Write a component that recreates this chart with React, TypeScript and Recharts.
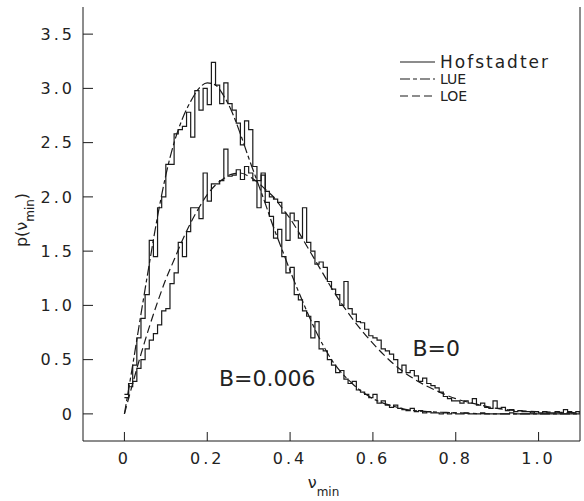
import { Line, LineChart, ReferenceDot, XAxis, YAxis } from "recharts"

// histogram bins: width 0.01 in nu_min, starting at 0
const BIN_WIDTH = 0.01

const histB0 = [
  0.18, 0.25, 0.3, 0.42, 0.5, 0.6, 0.68, 0.74, 0.82, 0.95,
  0.97, 1.2, 1.3, 1.58, 1.45, 1.68, 1.9, 1.9, 1.8, 2.22,
  1.96, 2.12, 2.12, 2.15, 2.44, 2.19, 2.2, 2.25, 2.16, 2.28,
  2.22, 2.15, 1.9, 2.2, 2.05, 2.0, 1.98, 1.95, 1.85, 1.6,
  1.85, 1.78, 1.62, 1.9, 1.58, 1.5, 1.38, 1.4, 1.35, 1.22,
  1.15, 1.1, 1.0, 1.22, 0.97, 0.92, 0.85, 0.84, 0.78, 0.72,
  0.7, 0.68, 0.6, 0.58, 0.55, 0.5, 0.38, 0.45, 0.38, 0.4,
  0.35, 0.3, 0.33, 0.28, 0.26, 0.24, 0.2, 0.16, 0.14, 0.12,
  0.12, 0.1, 0.12, 0.1, 0.14, 0.08, 0.1, 0.06, 0.05, 0.12,
  0.05, 0.06, 0.03, 0.04, 0.02, 0.03, 0.02, 0.02, 0.01, 0.02,
  0.01, 0.02, 0.01, 0.01, 0.02, 0.01, 0.04, 0.02, 0.01, 0.02,
]

const histB006 = [
  0.15, 0.28, 0.45, 0.7, 0.88, 1.1, 1.6, 1.45, 1.9, 2.0,
  2.3, 2.3, 2.58, 2.62, 2.65, 2.78, 2.55, 2.98, 2.8, 3.0,
  2.85, 3.24, 3.03, 2.86, 3.05, 2.86, 2.8, 2.68, 2.48, 2.7,
  2.62, 2.28, 2.15, 2.22, 1.95, 1.82, 1.62, 1.7, 1.45, 1.3,
  1.35, 1.1, 1.05, 0.95, 0.9, 0.7, 0.85, 0.6, 0.58, 0.5,
  0.45, 0.38, 0.4, 0.32, 0.28, 0.3, 0.22, 0.2, 0.18, 0.15,
  0.18, 0.1, 0.12, 0.08, 0.06, 0.08, 0.05, 0.04, 0.03, 0.05,
  0.02, 0.03, 0.01, 0.02, 0.01, 0.01, 0.0, 0.01, 0.0, 0.01,
  0.0, 0.0, 0.01, 0.0, 0.0, 0.0, 0.01, 0.0, 0.0, 0.0,
  0.0, 0.0, 0.0, 0.01, 0.0, 0.0, 0.0, 0.0, 0.0, 0.0,
  0.0, 0.0, 0.0, 0.0, 0.0, 0.0, 0.0, 0.0, 0.0, 0.0,
]

// smooth random-matrix curves
const lueNu = [0, 0.02, 0.04, 0.06, 0.08, 0.1, 0.12, 0.14, 0.16, 0.18, 0.2, 0.22, 0.24, 0.26, 0.28, 0.3, 0.32, 0.34, 0.36, 0.38, 0.4, 0.42, 0.44, 0.46, 0.48, 0.5, 0.55, 0.6, 0.65, 0.7, 0.8, 0.9, 1.1]
const lueP = [0, 0.45, 0.92, 1.38, 1.82, 2.2, 2.5, 2.72, 2.88, 3.0, 3.05, 3.03, 2.93, 2.78, 2.58, 2.36, 2.15, 1.94, 1.72, 1.52, 1.32, 1.13, 0.95, 0.78, 0.63, 0.5, 0.28, 0.14, 0.07, 0.03, 0.01, 0.0, 0.0]

const loeNu = [0, 0.02, 0.04, 0.06, 0.08, 0.1, 0.12, 0.14, 0.16, 0.18, 0.2, 0.22, 0.24, 0.26, 0.28, 0.3, 0.32, 0.34, 0.36, 0.38, 0.4, 0.42, 0.44, 0.46, 0.48, 0.5, 0.55, 0.6, 0.65, 0.7, 0.75, 0.8, 0.85, 0.9, 0.95, 1.0, 1.1]
const loeP = [0, 0.28, 0.55, 0.8, 1.03, 1.24, 1.42, 1.6, 1.76, 1.9, 2.02, 2.11, 2.17, 2.21, 2.22, 2.19, 2.14, 2.07, 2.0, 1.9, 1.8, 1.68, 1.55, 1.42, 1.29, 1.16, 0.88, 0.65, 0.46, 0.32, 0.22, 0.14, 0.09, 0.05, 0.03, 0.02, 0.01]

const xTicks = [0, 0.2, 0.4, 0.6, 0.8, 1.0]
const yTicks = [0, 0.5, 1.0, 1.5, 2.0, 2.5, 3.0, 3.5]

const annotations = [
  { text: "B=0", nu: 0.753, p: 0.61 },
  { text: "B=0.006", nu: 0.345, p: 0.33 },
]

const FONT = "'DejaVu Sans', sans-serif"
const INK = "#1a1a1a"
const LUE_DASH = "10 3 4 3"
const LOE_DASH = "8 4"

const histRows = histB0.map((b0, i) => ({ nu: i * BIN_WIDTH, b0, b006: histB006[i] }))
histRows.push({
  nu: histB0.length * BIN_WIDTH,
  b0: histB0[histB0.length - 1],
  b006: histB006[histB006.length - 1],
})
const lueRows = lueNu.map((nu, i) => ({ nu, p: lueP[i] }))
const loeRows = loeNu.map((nu, i) => ({ nu, p: loeP[i] }))

const fmt = (v: number) => (v === 0 ? "0" : v.toFixed(1))

const XTick = (props: any) => (
  <text x={props.x} y={props.y} dy="0.71em" textAnchor="middle" fontFamily={FONT} fontSize={16} letterSpacing={3} fill="#222">
    {fmt(props.payload.value)}
  </text>
)

const YTick = (props: any) => (
  <text x={props.x} y={props.y} dy="0.36em" textAnchor="end" fontFamily={FONT} fontSize={16} letterSpacing={3} fill="#222">
    {fmt(props.payload.value)}
  </text>
)

const XLabel = (props: any) => {
  const vb = props.viewBox
  return (
    <text x={vb.x + vb.width / 2 - 8} y={vb.y + 47} textAnchor="middle" fontFamily={FONT} fontSize={16} fill="#222">
      ν<tspan dy={8} fontSize={12}>min</tspan>
    </text>
  )
}

const YLabel = (props: any) => {
  const vb = props.viewBox
  const cx = vb.x + 27
  const cy = vb.y + vb.height / 2 - 4
  return (
    <text x={cx} y={cy} transform={`rotate(-90, ${cx}, ${cy})`} textAnchor="middle" fontFamily={FONT} fontSize={16} fill="#222">
      p(ν<tspan dy={7} fontSize={12}>min</tspan><tspan dy={-7}>)</tspan>
    </text>
  )
}

const legendRows = [
  { name: "Hofstadter", dash: undefined, size: 17, spacing: 2 },
  { name: "LUE", dash: LUE_DASH, size: 14, spacing: 0 },
  { name: "LOE", dash: LOE_DASH, size: 14, spacing: 0 },
]

const Legend = () => (
  <svg width={180} height={60} style={{ position: "absolute", left: 395, top: 50 }}>
    {legendRows.map((r, i) => (
      <g key={r.name}>
        <line x1={5} x2={40} y1={12 + i * 17} y2={12 + i * 17} stroke={INK} strokeWidth={1.2} strokeDasharray={r.dash} />
        <text x={45} y={12 + i * 17} dy="0.36em" fontFamily={FONT} fontSize={r.size} letterSpacing={r.spacing} fill="#222">
          {r.name}
        </text>
      </g>
    ))}
  </svg>
)

export default function App() {
  return (
    <div style={{ position: "relative", width: 584, height: 501, background: "#fff" }}>
      <style>{"body{margin:0}"}</style>
      <LineChart width={584} height={501} data={histRows} margin={{ top: 7, right: 0, bottom: 0, left: 0 }}>
        <XAxis
          xAxisId="b"
          dataKey="nu"
          type="number"
          domain={[-0.1, 1.1]}
          ticks={xTicks}
          interval={0}
          allowDataOverflow
          height={60}
          tickSize={-9}
          tickMargin={21}
          stroke={INK}
          tick={<XTick />}
          label={XLabel}
        />
        <XAxis
          xAxisId="t"
          orientation="top"
          dataKey="nu"
          type="number"
          domain={[-0.1, 1.1]}
          ticks={xTicks}
          interval={0}
          allowDataOverflow
          height={0}
          tickSize={-9}
          stroke={INK}
          tick={false}
        />
        <YAxis
          yAxisId="l"
          type="number"
          domain={[-0.25, 3.75]}
          ticks={yTicks}
          interval={0}
          allowDataOverflow
          width={83}
          tickSize={-10}
          tickMargin={18}
          stroke={INK}
          tick={<YTick />}
          label={YLabel}
        />
        <YAxis
          yAxisId="r"
          orientation="right"
          type="number"
          domain={[-0.25, 3.75]}
          ticks={yTicks}
          interval={0}
          allowDataOverflow
          width={4}
          tickSize={-9}
          stroke={INK}
          tick={false}
        />
        <Line xAxisId="b" yAxisId="l" dataKey="b0" type="stepAfter" stroke={INK} strokeWidth={1.2} dot={false} isAnimationActive={false} />
        <Line xAxisId="b" yAxisId="l" dataKey="b006" type="stepAfter" stroke={INK} strokeWidth={1.2} dot={false} isAnimationActive={false} />
        <Line xAxisId="b" yAxisId="l" data={lueRows} dataKey="p" type="monotone" stroke={INK} strokeWidth={1.2} strokeDasharray={LUE_DASH} dot={false} isAnimationActive={false} />
        <Line xAxisId="b" yAxisId="l" data={loeRows} dataKey="p" type="monotone" stroke={INK} strokeWidth={1.2} strokeDasharray={LOE_DASH} dot={false} isAnimationActive={false} />
        {annotations.map((a) => (
          <ReferenceDot
            key={a.text}
            xAxisId="b"
            yAxisId="l"
            x={a.nu}
            y={a.p}
            r={0}
            stroke="none"
            fill="none"
            label={{ value: a.text, position: "center", fontFamily: FONT, fontSize: 22, fill: "#222" }}
          />
        ))}
      </LineChart>
      <Legend />
    </div>
  )
}
